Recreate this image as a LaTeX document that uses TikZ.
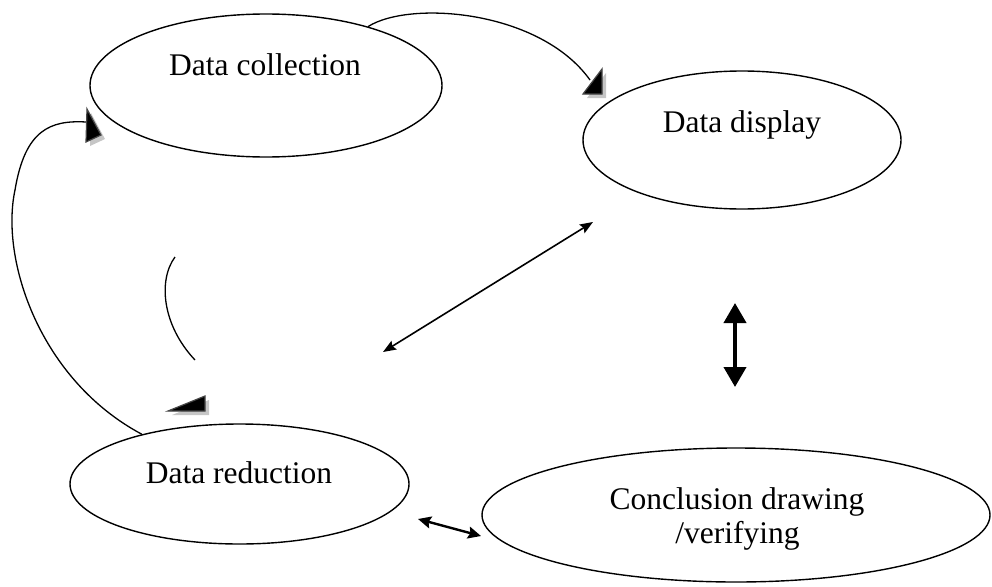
\documentclass[tikz,border=0pt]{standalone}
\usepackage{fontspec}
\setmainfont{Liberation Serif}
\usetikzlibrary{shapes.geometric,arrows.meta}
\newcommand\wordhead[3]{%
  \fill[gray!45] ([shift={(4,4)}]#1) -- ([shift={(4,4)}]#2) -- ([shift={(4,4)}]#3) -- cycle;
  \filldraw[fill=black, draw=gray!55!black, line width=1.2pt, line join=miter] (#1) -- (#2) -- (#3) -- cycle;
}
\begin{document}
\begin{tikzpicture}[x=1pt,y=-1pt,
  ell/.style={draw, ellipse, line width=1.4pt, inner sep=0pt, fill=white},
  lab/.style={anchor=base, inner sep=0pt, font=\fontsize{31.5}{34}\selectfont},
  conn/.style={line width=1.3pt},
  thinarr/.style={line width=1.6pt, {Stealth[length=13pt,width=10pt,inset=2pt]}-{Stealth[length=13pt,width=10pt,inset=2pt]}},
  thickarr/.style={line width=4pt, {Triangle[length=20pt,width=22pt]}-{Triangle[length=20pt,width=22pt]}},
  midarr/.style={line width=2.4pt, {Stealth[length=13pt,width=12pt,inset=2pt]}-{Stealth[length=13pt,width=12pt,inset=2pt]}}
]
\useasboundingbox (0,0) rectangle (992,586);
% ellipses
\node[ell, minimum width=352pt, minimum height=143pt] (dc) at (266,85.5) {};
\node[ell, minimum width=318pt, minimum height=138pt] (dd) at (742,140) {};
\node[ell, minimum width=339pt, minimum height=120pt] (dr) at (239.5,484) {};
\node[ell, minimum width=508pt, minimum height=134pt] (cd) at (736,515) {};
% labels
\node[lab] (tdc) at (265,75) {Data collection};
\node[lab] (tdd) at (742,132) {Data display};
\node[lab] (tdr) at (239,483) {Data reduction};
\node[lab] (tcd1) at (737,509) {Conclusion drawing};
\node[lab] (tcd2) at (737.5,543) {/verifying};
% free coordinates
\coordinate (e1) at (590,80);
\coordinate (e2) at (86,122);
\coordinate (s3) at (175,257);
\coordinate (e3) at (195,360);
\coordinate (d1) at (383,352);
\coordinate (d2) at (593,222);
\coordinate (v1) at (735,303);
\coordinate (v2) at (735,387);
\coordinate (h1) at (418,519);
\coordinate (h2) at (481,536);
% connectors
\draw[conn] (dc.30) .. controls (410,0) and (540,10) .. (e1);
\wordhead{602,69}{602,94}{583,94}
\draw[conn] (dr.153) .. controls (40,380) and (0,260) .. (15,190) .. controls (25,130) and (50,120) .. (e2);
\wordhead{87,109}{101,135}{86,142}
\draw[conn] (s3) .. controls (158,280) and (162,325) .. (e3);
\wordhead{168,411}{205,396}{205,411}
\draw[thinarr] (d1) -- (d2);
\draw[thickarr] (v1) -- (v2);
\draw[midarr] (h1) -- (h2);
\end{tikzpicture}
\end{document}
